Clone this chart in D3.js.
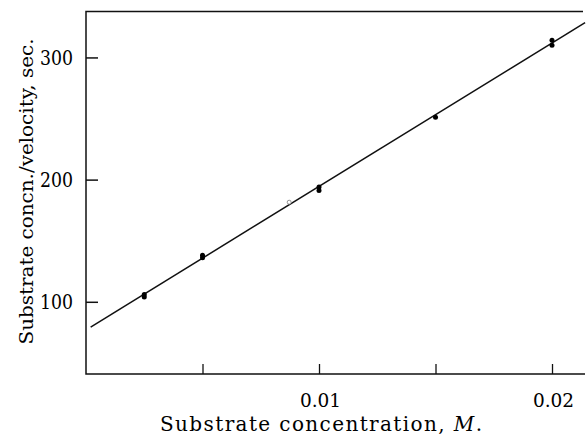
<!DOCTYPE html>
<html>
<head>
<meta charset="utf-8">
<script src="https://cdnjs.cloudflare.com/ajax/libs/d3/7.8.5/d3.min.js"></script>
<style>
  html, body { margin: 0; padding: 0; background: #fff; }
  svg text { font-family: "DejaVu Serif", "Liberation Serif", serif; fill: #000; }
</style>
</head>
<body>
<svg id="chart" width="586" height="435"></svg>
<script>
// Measured substrate concentrations (M) and concn./velocity ratios (sec.)
const concentrations = [0.0025, 0.0025, 0.005, 0.005, 0.01, 0.01, 0.015, 0.02, 0.02];
const ratios = [104, 106, 136, 138, 191, 194, 251, 310, 314];
// Single faint open point
const openConcentrations = [0.00872];
const openRatios = [181.5];
// Fitted straight line (intercept, slope)
const fitIntercept = 77;
const fitSlope = 11740;
const fitRange = [0.0002, 0.02142];

const xTicks = [0.005, 0.01, 0.015, 0.02];
const xTickLabels = ["", "0.01", "", "0.02"];
const yTicks = [100, 200, 300];

const svg = d3.select("#chart");
const plotLeft = 86, plotTop = 11.5, plotRight = 585, plotBottom = 374;

const x = d3.scaleLinear().domain([0, 0.021416]).range([plotLeft, plotRight]);
const y = d3.scaleLinear().domain([40.9, 337.6]).range([plotBottom, plotTop]);

// Frame: left, top and bottom edges
svg.append("path")
  .attr("d", `M${plotRight - 2},${plotTop} H${plotLeft} V${plotBottom} H${plotRight}`)
  .attr("fill", "none").attr("stroke", "#111").attr("stroke-width", 1.5);

// Y axis ticks point into the plot
const yAxis = d3.axisRight(y).tickValues(yTicks).tickSize(12).tickFormat(d3.format("d"));
const gy = svg.append("g").attr("transform", `translate(${plotLeft},0)`).call(yAxis);
gy.select(".domain").remove();
gy.selectAll(".tick line").attr("stroke", "#111").attr("stroke-width", 1.5);
gy.selectAll(".tick text")
  .attr("x", -13).attr("text-anchor", "end")
  .attr("font-size", 19.5).attr("dy", "0.36em").attr("fill", "#000")
  .attr("textLength", 33).attr("lengthAdjust", "spacingAndGlyphs");

// X axis ticks point up into the plot
const xAxis = d3.axisTop(x).tickValues(xTicks).tickSize(10)
  .tickFormat((d, i) => xTickLabels[i]);
const gx = svg.append("g").attr("transform", `translate(0,${plotBottom})`).call(xAxis);
gx.select(".domain").remove();
gx.selectAll(".tick line").attr("stroke", "#111").attr("stroke-width", 1.3);
gx.selectAll(".tick text")
  .attr("y", 33).attr("dy", 0).attr("dx", 1)
  .attr("font-size", 18.5).attr("fill", "#000");

// Fitted line
const line = d3.line().x(d => x(d)).y(d => y(fitIntercept + fitSlope * d));
svg.append("path")
  .attr("d", line(fitRange))
  .attr("fill", "none").attr("stroke", "#111").attr("stroke-width", 1.5);

// Data points
svg.append("g").selectAll("circle")
  .data(concentrations.map((c, i) => [c, ratios[i]]))
  .join("circle")
  .attr("cx", d => x(d[0])).attr("cy", d => y(d[1]))
  .attr("r", 2.5).attr("fill", "#000");

svg.append("g").selectAll("circle")
  .data(openConcentrations.map((c, i) => [c, openRatios[i]]))
  .join("circle")
  .attr("cx", d => x(d[0])).attr("cy", d => y(d[1]))
  .attr("r", 2).attr("fill", "#fff").attr("stroke", "#777").attr("stroke-width", 0.8);

// Axis titles
const xTitle = svg.append("text")
  .attr("x", 321).attr("y", 431).attr("text-anchor", "middle").attr("font-size", 20)
  .attr("textLength", 322).attr("lengthAdjust", "spacing");
xTitle.append("tspan").text("Substrate concentration, ");
xTitle.append("tspan").attr("font-style", "italic").text("M");
xTitle.append("tspan").text(".");

svg.append("text")
  .attr("transform", "translate(33,191.5) rotate(-90)")
  .attr("text-anchor", "middle").attr("font-size", 19)
  .attr("textLength", 306).attr("lengthAdjust", "spacingAndGlyphs")
  .text("Substrate concn./velocity, sec.");
</script>
</body>
</html>
